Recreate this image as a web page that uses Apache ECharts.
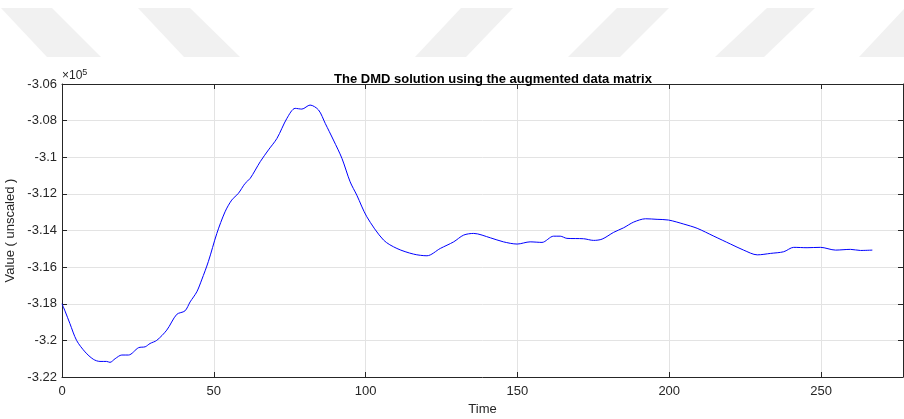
<!DOCTYPE html>
<html><head><meta charset="utf-8">
<script src="https://cdn.jsdelivr.net/npm/echarts@6/dist/echarts.min.js"></script>
<style>html,body{margin:0;padding:0;background:#fff}#c{width:904px;height:419px}</style>
</head><body><div id="c"></div>
<script>
const times = [0,1,2.6,4.8,7.6,10.3,12.5,14.7,15.8,17.5,19.7,21.9,25.2,27.4,29,31.2,34.5,37.8,40.5,42.2,44.4,46,48.2,51,53.7,55.9,58.1,60.3,62,65.3,68,70.8,74.1,76.8,79,81.7,84.5,86.7,89.4,92.2,94.9,97.1,100.4,105.9,110.3,115.8,120.2,124.6,129,132.3,135.6,141.1,145.4,149.9,154.2,158.1,161.9,164.1,166.3,171.8,175.1,177.9,181.7,185,188.3,192.2,196,199.8,204.8,209.2,214.7,220.2,224.5,229,233.4,237.7,241,245.4,249.8,254.8,259.7,263,266.9];
const values = [-318000,-318400,-319080,-320000,-320630,-321030,-321150,-321150,-321200,-321000,-320800,-320800,-320400,-320350,-320170,-320000,-319440,-318580,-318390,-317900,-317350,-316700,-315700,-314160,-312980,-312340,-311970,-311430,-311150,-310240,-309600,-308970,-307870,-307330,-307370,-307150,-307420,-308150,-309060,-310060,-311340,-312070,-313250,-314520,-314980,-315290,-315380,-314980,-314620,-314250,-314160,-314400,-314620,-314740,-314620,-314650,-314310,-314310,-314430,-314450,-314540,-314470,-314100,-313850,-313540,-313360,-313390,-313430,-313650,-313880,-314310,-314740,-315070,-315330,-315250,-315160,-314920,-314940,-314920,-315070,-315030,-315090,-315070];
const xTicks = {min:0, max:277, step:50};
const yTicks = {min:-322000, max:-306000, step:2000};
const titleText = 'The DMD solution using the augmented data matrix';
const xName = 'Time';
const yName = 'Value ( unscaled )';

const chart = echarts.init(document.getElementById('c'), null, {renderer:'canvas'});
const F = '"Liberation Sans", Arial, sans-serif';
const ax = '#262626';
const wm = '#f1f1f1';
function para(x0,x1,x2,x3){ // top-left, top-right, bottom-left, bottom-right
  return {type:'polygon', silent:true, z:-10, shape:{points:[[x0,8],[x1,8],[x3,57],[x2,57]]}, style:{fill:wm}};
}
const option = {
  animation:false,
  backgroundColor:'#fff',
  title:{text:titleText, left:488, textAlign:'center', top:68, textStyle:{fontFamily:F, fontSize:13, fontWeight:'bold', color:'#000'}},
  grid:{left:62, right:1, top:84, bottom:42, containLabel:false, outerBoundsMode:'none'},
  graphic:[
    para(1,52,47,101), para(138,190,184,240),
    para(461,513,415,466), para(617,669,568,620), para(767,815,715,764), para(905,955,859,910),
    {type:'text', left:62, top:68, style:{text:'×10{s|5}', font:'12px '+F, fill:ax, rich:{s:{fontSize:9, verticalAlign:'top', padding:[0,0,6,0], fontFamily:F, fill:ax}}}}
  ],
  xAxis:[
    {type:'value', min:xTicks.min, max:xTicks.max, interval:xTicks.step, position:'bottom',
     name:xName, nameLocation:'middle', nameGap:24, nameTextStyle:{fontFamily:F, fontSize:13, color:ax},
     axisLine:{show:true, onZero:false, lineStyle:{color:ax, width:1}},
     axisTick:{show:true, inside:true, length:5, lineStyle:{color:ax}},
     axisLabel:{fontFamily:F, fontSize:13, color:ax, margin:8, showMaxLabel:false},
     splitLine:{show:true, lineStyle:{color:'#e3e3e3', width:1}}},
    {type:'value', min:xTicks.min, max:xTicks.max, interval:xTicks.step, position:'top',
     axisLine:{show:true, onZero:false, lineStyle:{color:ax, width:1}},
     axisTick:{show:true, inside:true, length:5, lineStyle:{color:ax}},
     axisLabel:{show:false}, splitLine:{show:false}}
  ],
  yAxis:[
    {type:'value', min:yTicks.min, max:yTicks.max, interval:yTicks.step, position:'left',
     name:yName, nameLocation:'middle', nameGap:37, nameTextStyle:{fontFamily:F, fontSize:13, color:ax},
     axisLine:{show:true, onZero:false, lineStyle:{color:ax, width:1}},
     axisTick:{show:true, inside:true, length:5, lineStyle:{color:ax}},
     axisLabel:{fontFamily:F, fontSize:13, color:ax, margin:5, formatter:v=>String(+(v/1e5).toFixed(2))},
     splitLine:{show:true, lineStyle:{color:'#e3e3e3', width:1}}},
    {type:'value', min:yTicks.min, max:yTicks.max, interval:yTicks.step, position:'right',
     axisLine:{show:true, onZero:false, lineStyle:{color:ax, width:1}},
     axisTick:{show:true, inside:true, length:5, lineStyle:{color:ax}},
     axisLabel:{show:false}, splitLine:{show:false}}
  ],
  series:[{type:'line', xAxisIndex:0, yAxisIndex:0, data:times.map((t,i)=>[t,values[i]]),
    showSymbol:false, smooth:0.3, lineStyle:{color:'#0000ff', width:1}, itemStyle:{color:'#0000ff'}}]
};
chart.setOption(option);
</script></body></html>
